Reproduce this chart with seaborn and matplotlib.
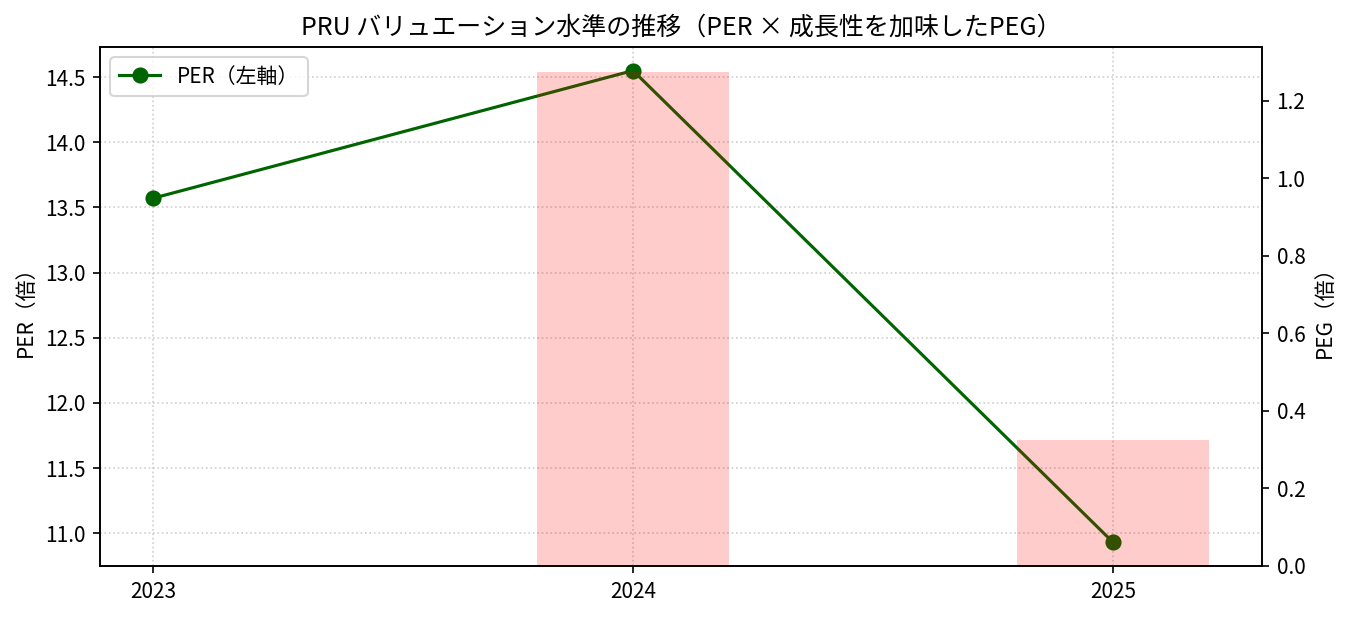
import numpy as np
import pandas as pd
import matplotlib
matplotlib.use("Agg")
import matplotlib.pyplot as plt
import seaborn as sns

plt.rcParams['font.family'] = ['Noto Sans CJK JP', 'DejaVu Sans']

# Data
years = ["2023", "2024", "2025"]
per_values = [13.57, 14.55, 10.93]
peg_values = [np.nan, 1.275, 0.325]

df = pd.DataFrame({"year": years, "PER": per_values, "PEG": peg_values})
peg_df = df.dropna(subset=["PEG"])

fig, ax1 = plt.subplots(figsize=(1351 / 150, 617 / 150), dpi=150)
fig.subplots_adjust(left=100 / 1351, right=1262 / 1351, bottom=1 - 566 / 617, top=1 - 47 / 617)

# PER line (left axis)
sns.lineplot(data=df, x="year", y="PER", marker="o", color="darkgreen",
             markeredgecolor="darkgreen", linewidth=1.5, markersize=7,
             label="PER（左軸）", ax=ax1)
ax1.set_xlabel("")
ax1.set_ylabel("PER（倍）")
ax1.grid(True, linestyle=":", alpha=0.6)

# PEG bars (right axis)
ax2 = ax1.twinx()
ax2.bar(peg_df["year"], peg_df["PEG"], width=0.4, color="red", alpha=0.2)
ax2.set_ylabel("PEG（倍）")

ax1.legend(loc="upper left")
ax1.set_title("PRU バリュエーション水準の推移（PER × 成長性を加味したPEG）", fontsize=12)

fig.savefig("out.png", dpi=150)
